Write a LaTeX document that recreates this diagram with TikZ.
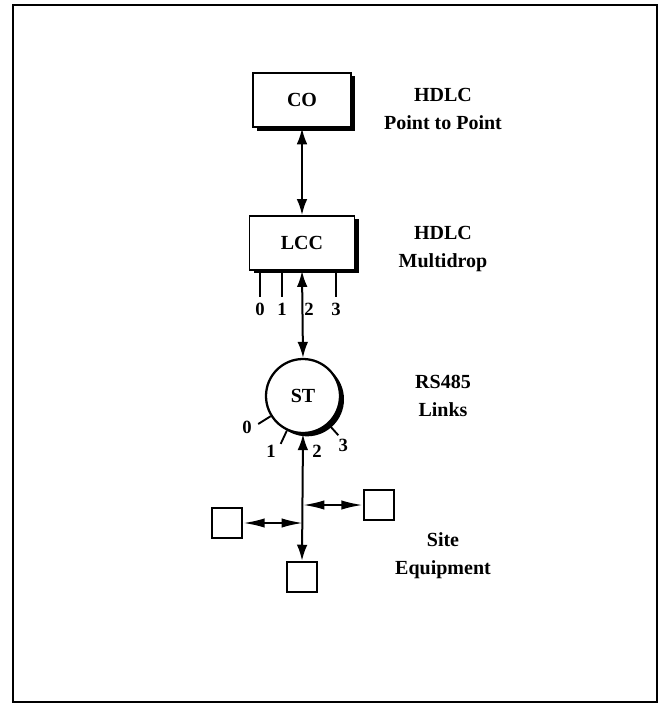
\documentclass[tikz,border=0pt]{standalone}
\usepackage{fontspec}
\setmainfont{Liberation Serif}
\usetikzlibrary{arrows.meta,positioning,calc,shadows}

\begin{document}
\begin{tikzpicture}[x=0.75pt,y=-0.75pt,
  b/.style={draw,line width=1.4pt,fill=white,font=\fontsize{15}{18}\selectfont\bfseries,
    drop shadow={shadow xshift=3pt,shadow yshift=-2.5pt,fill=black,opacity=1}},
  eq/.style={draw,line width=1.4pt,fill=white,minimum size=23pt,inner sep=0pt},
  ar/.style={{Latex[length=12pt,width=8pt]}-{Latex[length=12pt,width=8pt]},line width=1.5pt},
  sar/.style={{Latex[length=16pt,width=7pt]}-{Latex[length=16pt,width=7pt]},line width=1.5pt},
  tk/.style={line width=1.4pt},
  num/.style={font=\fontsize{14}{16}\selectfont\bfseries,inner sep=0pt},
  lab/.style={font=\fontsize{15}{21}\selectfont\bfseries,align=center}]
\useasboundingbox (0,0) rectangle (665,704);
\draw[line width=2pt] (13,5) rectangle (657,702);
% main column
\node[b,minimum width=73.5pt,minimum height=41pt] (co) at (302,100) {CO};
\node[b,minimum width=78.75pt,minimum height=40.5pt] (lcc) at (302,243) {LCC};
\node[b,circle,minimum size=55.5pt,line width=1.7pt,
  drop shadow={shadow xshift=1.5pt,shadow yshift=-1.5pt,fill=black,opacity=1}] (st) at (303,396) {ST};
\draw[ar] (co.south) -- (lcc.north);
\draw[ar] (lcc.south) -- (st.north);
% ports of the LCC
\foreach \dx/\n in {11.5/0,33.5/1,87.5/3}
  \draw[tk] ([xshift=\dx*0.75pt]lcc.south west) -- ++(0,26)
    node[num,below=4pt] (lp\n) {\n};
\node[num] (lp2) at (309,309) {2};
% ports of the ST
\foreach \a/\b/\n in {212/209/0,245/240/1,312/309/3}{
  \draw[tk] (st.\a) -- ++(\a:11pt);
  \node[num] (sp\n) at ([shift={(\b:48pt)}]st.center) {\n};
}
\node[num] (sp2) at (317,451) {2};
% site equipment
\node[eq] (eqb) at (302,577) {};
\node[eq] (eqr) at (379,505) {};
\node[eq] (eql) at (227,523) {};
\coordinate (jr) at (st.south |- eqr);
\coordinate (jl) at (st.south |- eql);
\draw[ar] (st.south) -- (eqb.north);
\draw[sar] (jr) -- (eqr.west);
\draw[sar] (eql.east) -- (jl);
% layer labels
\node[lab] (lco) at (443,109) {HDLC\\Point to Point};
\node[lab] (llcc) at (443,249) {HDLC\\Multidrop};
\node[lab] (lst) at (443,396) {RS485\\Links};
\node[lab] (lsite) at (443,556) {Site\\Equipment};
\end{tikzpicture}
\end{document}
